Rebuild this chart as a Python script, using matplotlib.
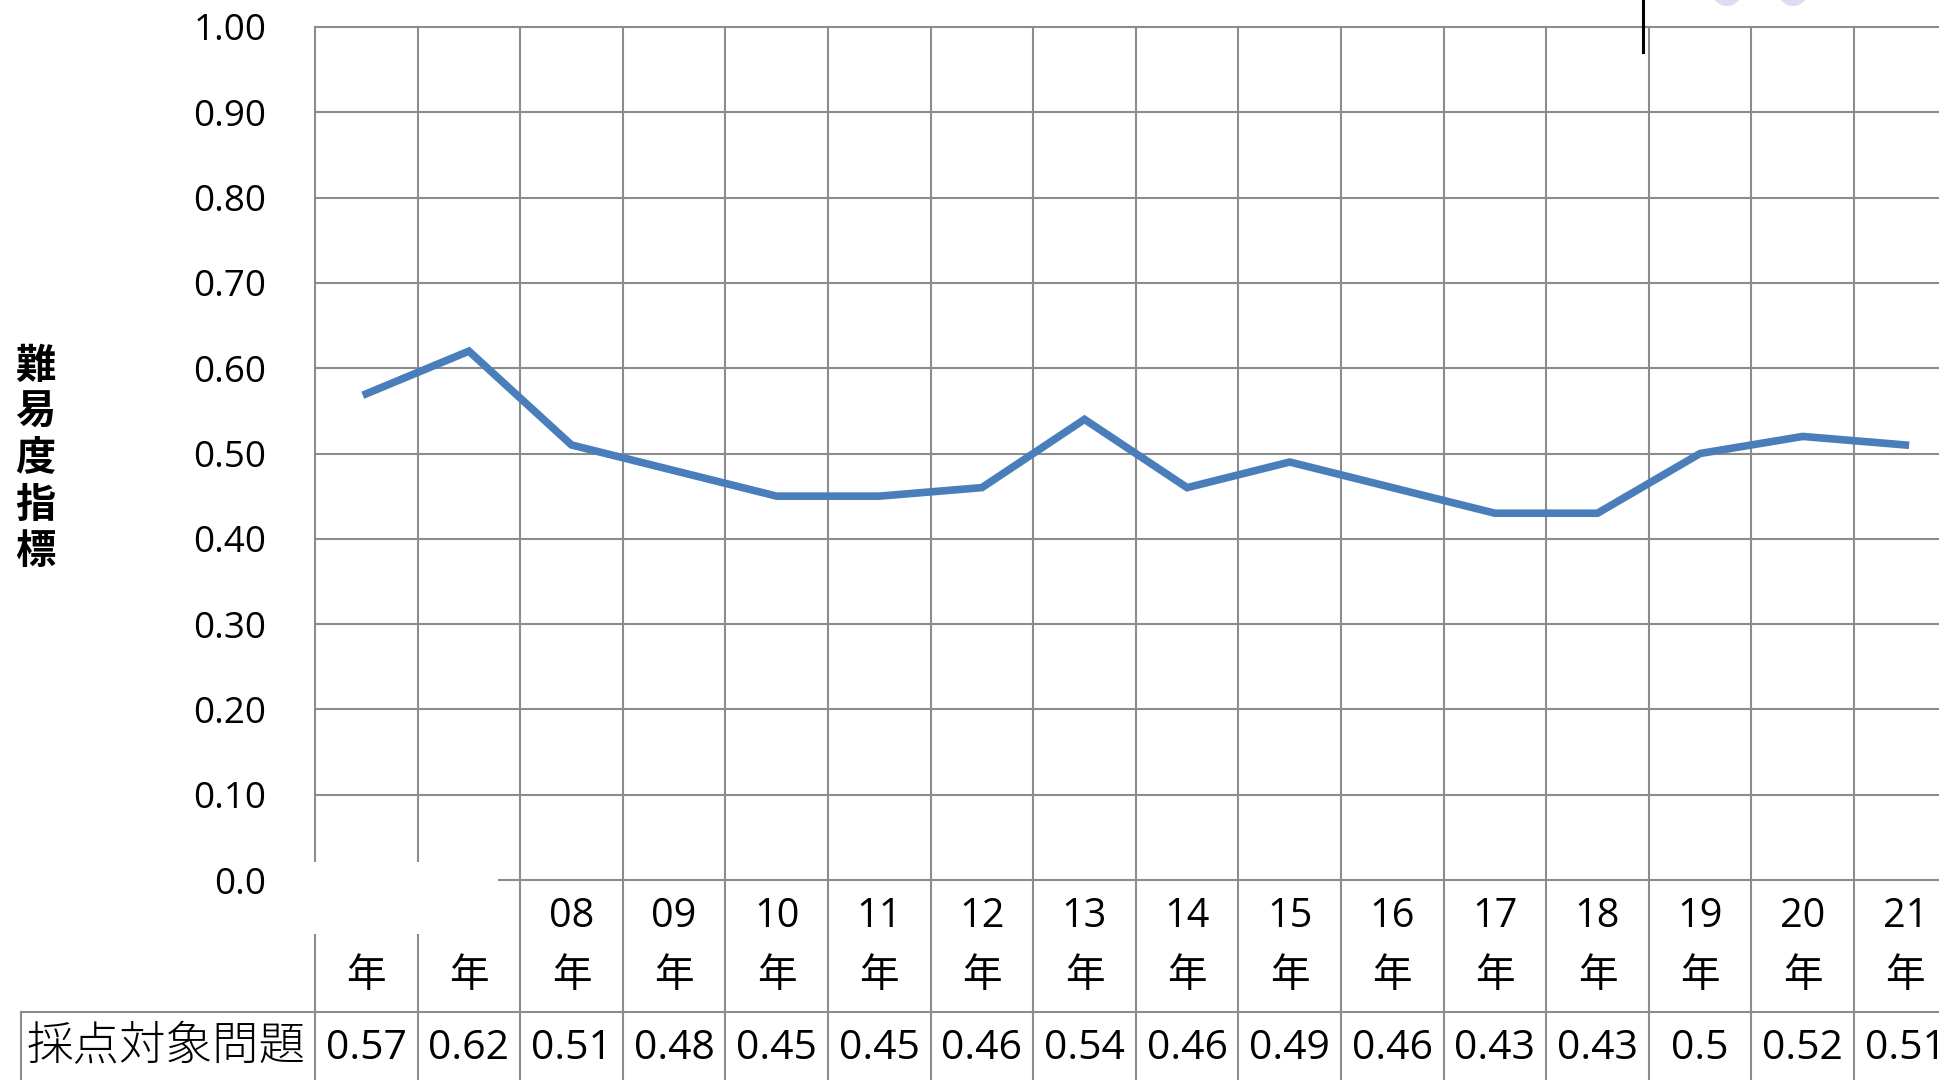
import matplotlib
matplotlib.use("Agg")
import matplotlib.pyplot as plt
from matplotlib.patches import Rectangle, Ellipse
import numpy as np

# data
years = ["06", "07", "08", "09", "10", "11", "12", "13", "14", "15",
         "16", "17", "18", "19", "20", "21"]
values = [0.57, 0.62, 0.51, 0.48, 0.45, 0.45, 0.46, 0.54, 0.46, 0.49,
          0.46, 0.43, 0.43, 0.5, 0.52, 0.51]
value_labels = ["0.57", "0.62", "0.51", "0.48", "0.45", "0.45", "0.46", "0.54",
                "0.46", "0.49", "0.46", "0.43", "0.43", "0.5", "0.52", "0.51"]
yticks = [0.0, 0.1, 0.2, 0.3, 0.4, 0.5, 0.6, 0.7, 0.8, 0.9, 1.0]
ytick_labels = ["0.0", "0.10", "0.20", "0.30", "0.40", "0.50", "0.60",
                "0.70", "0.80", "0.90", "1.00"]
row_name = "採点対象問題"
ylabel = "難易度指標"

W, H = 1939, 1080
FONTS = ["Open Sans", "Noto Sans CJK JP"]
GRID = "#8c8c8c"
LINE = "#4a7ebb"

fig = plt.figure(figsize=(W / 100, H / 100), dpi=100)

def fx(x):
    return x / W

def fy(y):
    return 1 - y / H

# plot area in pixels
left, top, zero_y = 315, 27, 880
colw = 102.6
n = len(years)
ax = fig.add_axes([fx(left), fy(zero_y), n * colw / W, (zero_y - top) / H])
ax.set_xlim(-0.5, n - 0.5)
ax.set_ylim(0, 1)
for s in ax.spines.values():
    s.set_visible(False)
ax.set_xticks([])
ax.set_yticks(yticks)
ax.set_yticklabels(ytick_labels, fontsize=26.5, family=FONTS)
ax.tick_params(axis="y", length=0, pad=35)

# data units per pixel (vertical)
upp = 1.0 / (zero_y - top)

def dy(ypix):
    return (zero_y - ypix) * upp

# horizontal gridlines
for t in yticks:
    ax.plot([-0.5, n - 0.5], [t, t], color=GRID, lw=1.5, zorder=1,
            clip_on=False)

# vertical gridlines, down through the table
bounds = np.arange(n + 1) - 0.5
for b in bounds:
    ax.plot([b, b], [1, dy(H + 5)], color=GRID, lw=1.5, zorder=1,
            clip_on=False)

x = np.arange(n)
ax.plot(x, values, color=LINE, lw=5.5, zorder=3, solid_joinstyle="miter")

# table: category row and value row
for i, yr in enumerate(years):
    ax.text(i, dy(917), yr, ha="center", va="center", fontsize=28.5,
            family=FONTS, clip_on=False)
    ax.text(i, dy(977), "年", ha="center", va="center", fontsize=28.5,
            family=FONTS, clip_on=False)
    ax.text(i, dy(1049), value_labels[i], ha="center", va="center",
            fontsize=29.5, family=FONTS, clip_on=False)

# table horizontal line and row label box
fig.add_artist(plt.Line2D([fx(21), 1], [fy(1012), fy(1012)], color=GRID,
                          lw=1.5))
fig.add_artist(plt.Line2D([fx(21), fx(21)], [fy(1012), 0], color=GRID,
                          lw=1.5))
fig.text(fx(27), fy(1047), row_name, ha="left", va="center", fontsize=33.5,
         family=["Noto Sans CJK JP"], weight="light")

# white patch over the first two year labels
fig.add_artist(Rectangle((fx(312), fy(934)), (498 - 312) / W, (934 - 862) / H,
                         transform=fig.transFigure, facecolor="white",
                         edgecolor="none", zorder=5))

# y axis title, stacked characters
fig.text(fx(35), fy(459), "\n".join(ylabel), ha="center", va="center",
         fontsize=29, weight="bold", family=["Noto Sans CJK JP"],
         linespacing=1.17)

# stray marks at the top right
fig.add_artist(plt.Line2D([fx(1643), fx(1643)], [1, fy(52)], color="black",
                          lw=2.2))
for cx in (1727, 1793):
    fig.add_artist(Ellipse((fx(cx), fy(-9)), 30 / W, 30 / H,
                           transform=fig.transFigure, facecolor="#dcdcf2",
                           edgecolor="none"))

fig.savefig("out.png", dpi=100)
